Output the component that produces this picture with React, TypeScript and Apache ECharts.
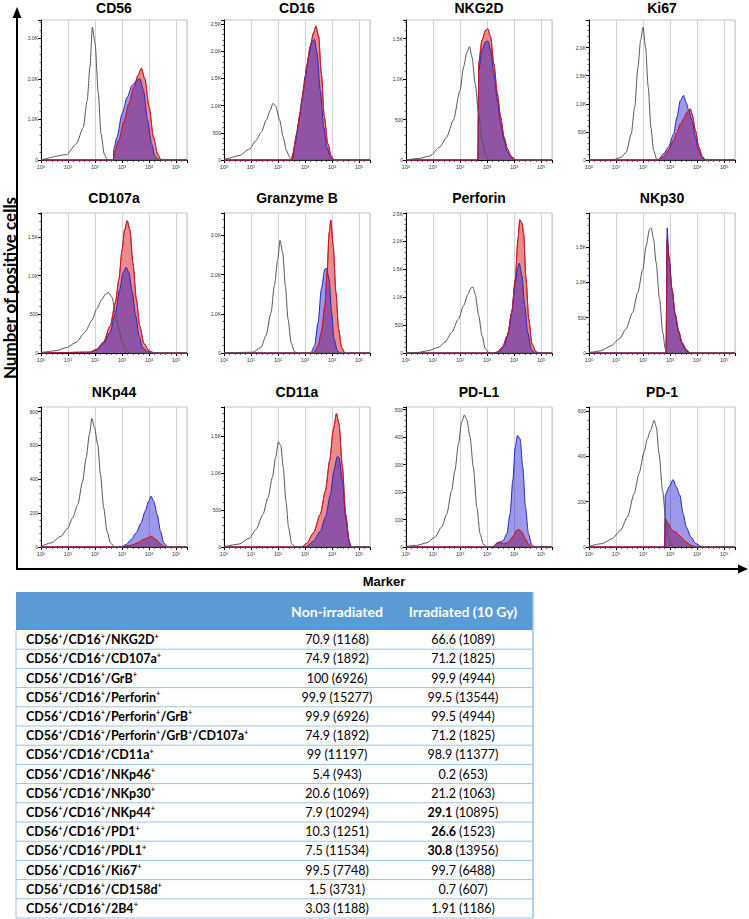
import React, { useEffect, useRef } from "react";
import * as echarts from "echarts";

// ---------- Histogram panels (x = log10 fluorescence, y = cell count) ----------
const PANEL_NAMES = ["CD56", "CD16", "NKG2D", "Ki67", "CD107a", "Granzyme B", "Perforin", "NKp30", "NKp44", "CD11a", "PD-L1", "PD-1"];
const Y_MAX = [3450, 2570, 1730, 2490, 1810, 3570, 2510, 1980, 827, 1890, 510, 617];
const Y_STEP = [1000, 500, 500, 500, 500, 1000, 500, 500, 200, 500, 100, 200];
const X_DECADES = [0, 1, 2, 3, 4, 5];

// unstained / isotype (grey outline)
const CD56_ISO = [[0,0],[0.94,130],[1.31,400],[1.56,800],[1.71,1470],[1.81,2300],[1.9,3270],[2.0,2880],[2.12,1640],[2.22,640],[2.34,150],[2.44,20],[2.55,0],[5.4,0]];
const CD16_ISO = [[0,0],[0.06,20],[0.56,80],[0.94,200],[1.19,360],[1.38,510],[1.56,730],[1.71,910],[1.81,1040],[1.91,990],[2.06,730],[2.19,420],[2.31,170],[2.44,40],[2.54,0],[5.4,0]];
const NKG2D_ISO = [[0,0],[0.5,20],[0.88,50],[1.25,160],[1.5,280],[1.75,490],[2.0,860],[2.13,1150],[2.25,1330],[2.35,1400],[2.44,1270],[2.56,940],[2.69,570],[2.81,240],[2.94,70],[3.06,0],[5.4,0]];
const KI67_ISO = [[0,0],[0.94,10],[1.19,50],[1.38,140],[1.56,460],[1.69,940],[1.81,1650],[1.91,2130],[2.0,2360],[2.09,2010],[2.19,1300],[2.29,580],[2.39,170],[2.5,20],[2.63,0],[5.4,0]];
const CD107A_ISO = [[0,0],[0.06,10],[0.56,30],[0.94,70],[1.31,140],[1.63,270],[1.88,420],[2.06,570],[2.25,690],[2.38,760],[2.5,780],[2.63,720],[2.75,520],[2.88,310],[3.0,140],[3.13,40],[3.25,0],[5.4,0]];
const GRB_ISO = [[0,0],[1.06,20],[1.37,140],[1.55,440],[1.74,1030],[1.86,1710],[1.99,2390],[2.07,2870],[2.17,2560],[2.27,1710],[2.37,860],[2.48,270],[2.61,30],[2.73,0],[5.4,0]];
const PERF_ISO = [[0,0],[0.44,10],[0.81,40],[1.19,100],[1.44,190],[1.69,370],[1.94,610],[2.13,850],[2.29,1050],[2.41,1170],[2.48,1180],[2.56,1050],[2.69,670],[2.81,310],[2.94,70],[3.06,10],[3.19,0],[5.4,0]];
const NKP30_ISO = [[0,0],[0.06,10],[0.43,30],[0.81,100],[1.12,200],[1.37,340],[1.61,570],[1.8,850],[1.99,1180],[2.11,1510],[2.24,1750],[2.3,1770],[2.39,1610],[2.48,1280],[2.61,760],[2.73,290],[2.82,60],[2.92,0],[5.4,0]];
const NKP44_ISO = [[0,4],[0.37,24],[0.74,63],[0.99,112],[1.17,172],[1.36,250],[1.54,389],[1.67,527],[1.79,665],[1.88,760],[1.98,704],[2.1,605],[2.2,428],[2.32,231],[2.44,93],[2.57,24],[2.72,0],[5.4,0]];
const CD11A_ISO = [[0,0],[0.06,10],[0.56,40],[0.94,120],[1.19,240],[1.44,440],[1.63,670],[1.79,940],[1.91,1210],[2.01,1420],[2.1,1370],[2.19,1080],[2.29,620],[2.39,260],[2.5,50],[2.63,0],[5.4,0]];
const PDL1_ISO = [[0,2],[0.4,6],[0.77,15],[1.07,36],[1.32,73],[1.51,121],[1.69,206],[1.81,279],[1.94,376],[2.06,455],[2.16,481],[2.25,463],[2.37,400],[2.49,291],[2.62,145],[2.74,48],[2.86,10],[2.99,0],[5.4,0]];
const PD1_ISO = [[0,3],[0.49,15],[0.86,37],[1.17,74],[1.42,132],[1.67,235],[1.85,324],[2.04,419],[2.16,478],[2.28,515],[2.41,559],[2.49,529],[2.59,412],[2.72,250],[2.84,118],[2.94,44],[3.06,7],[3.19,0],[5.4,0]];

// non-irradiated (blue)
const CD56_NON = [[0,0],[2.68,0],[2.69,270],[2.81,560],[3.0,1140],[3.19,1550],[3.37,1840],[3.56,1970],[3.66,2000],[3.79,1720],[3.94,980],[4.09,400],[4.21,100],[4.38,0],[5.4,0]];
const CD16_NON = [[0,0],[2.53,0],[2.63,300],[2.75,670],[2.88,1100],[3.0,1530],[3.13,1900],[3.25,2180],[3.35,2210],[3.44,1960],[3.56,1280],[3.69,600],[3.81,230],[3.94,50],[4.06,0],[5.4,0]];
const NKG2D_NON = [[0,0],[2.66,0],[2.69,1110],[2.81,1360],[2.94,1460],[3.03,1470],[3.13,1360],[3.25,1070],[3.38,740],[3.5,450],[3.63,240],[3.75,100],[3.88,30],[4.06,0],[5.4,0]];
const KI67_NON = [[0,0],[2.56,0],[2.75,110],[2.94,230],[3.13,460],[3.25,760],[3.38,1060],[3.5,1150],[3.59,1030],[3.69,880],[3.81,700],[3.94,400],[4.06,170],[4.19,40],[4.31,0],[5.4,0]];
const CD107A_NON = [[0,0],[1.81,10],[2.06,40],[2.31,120],[2.56,270],[2.75,520],[2.91,820],[3.04,1040],[3.15,1110],[3.25,1040],[3.38,780],[3.5,480],[3.63,220],[3.75,70],[3.94,20],[4.13,0],[5.4,0]];
const GRB_NON = [[0,0],[3.2,0],[3.23,20],[3.35,190],[3.48,780],[3.6,1630],[3.73,2140],[3.79,2160],[3.89,1880],[3.98,1030],[4.07,360],[4.19,60],[4.29,0],[5.4,0]];
const PERF_NON = [[0,0],[3.3,0],[3.44,20],[3.63,130],[3.79,370],[3.91,730],[4.04,1260],[4.13,1530],[4.19,1610],[4.29,1380],[4.39,850],[4.5,370],[4.63,70],[4.75,0],[5.4,0]];
const NKP30_NON = [[0,0],[2.85,0],[2.89,1770],[2.96,1370],[3.07,900],[3.19,530],[3.32,290],[3.44,130],[3.6,30],[3.73,0],[5.4,0]];
const NKP44_NON = [[0,0],[2.85,0],[2.96,2],[3.15,14],[3.33,43],[3.52,83],[3.7,142],[3.85,211],[3.98,270],[4.07,300],[4.17,270],[4.3,191],[4.42,93],[4.54,24],[4.67,2],[4.77,0],[5.4,0]];
const CD11A_NON = [[0,0],[2.9,0],[3.06,10],[3.31,80],[3.56,210],[3.75,400],[3.94,710],[4.06,1030],[4.19,1220],[4.25,1210],[4.38,900],[4.5,400],[4.63,80],[4.69,0],[5.4,0]];
const PDL1_NON = [[0,0],[3.1,0],[3.23,2],[3.36,15],[3.48,18],[3.6,24],[3.73,48],[3.85,121],[3.95,242],[4.04,364],[4.12,406],[4.22,394],[4.32,291],[4.42,145],[4.53,48],[4.65,8],[4.77,0],[5.4,0]];
const PD1_NON = [[0,0],[2.8,0],[2.82,228],[2.96,265],[3.11,297],[3.23,265],[3.36,228],[3.48,147],[3.6,88],[3.77,44],[3.95,15],[4.14,3],[4.26,0],[5.4,0]];

// irradiated 10 Gy (red)
const CD56_IRR = [[0,0],[2.68,0],[2.69,150],[2.88,480],[3.06,930],[3.25,1390],[3.44,1800],[3.59,2090],[3.71,2260],[3.84,2000],[4.0,1300],[4.16,560],[4.31,150],[4.44,0],[5.4,0]];
const CD16_IRR = [[0,0],[2.5,0],[2.54,110],[2.69,480],[2.81,850],[2.94,1280],[3.06,1720],[3.19,2090],[3.31,2330],[3.4,2460],[3.5,2270],[3.6,1590],[3.71,790],[3.84,300],[3.96,80],[4.06,0],[5.4,0]];
const NKG2D_IRR = [[0,0],[2.66,0],[2.69,1200],[2.81,1480],[2.94,1600],[3.03,1620],[3.13,1520],[3.25,1190],[3.38,820],[3.5,530],[3.63,280],[3.75,140],[3.88,50],[4.06,0],[5.4,0]];
const KI67_IRR = [[0,0],[2.56,0],[2.75,60],[2.94,170],[3.13,350],[3.25,490],[3.38,640],[3.5,730],[3.63,850],[3.75,910],[3.81,820],[3.94,520],[4.06,230],[4.19,60],[4.31,0],[5.4,0]];
const CD107A_IRR = [[0,0],[1.81,10],[2.06,50],[2.31,140],[2.56,350],[2.75,650],[2.88,950],[3.0,1340],[3.09,1590],[3.19,1710],[3.29,1590],[3.4,1160],[3.53,690],[3.65,350],[3.81,120],[4.0,30],[4.19,0],[5.4,0]];
const GRB_IRR = [[0,0],[3.3,0],[3.35,30],[3.48,190],[3.6,530],[3.73,1200],[3.81,2050],[3.89,3070],[3.95,3390],[4.04,2730],[4.14,1540],[4.24,610],[4.35,140],[4.47,0],[5.4,0]];
const PERF_IRR = [[0,0],[3.25,0],[3.38,20],[3.56,100],[3.75,310],[3.91,730],[4.04,1320],[4.14,2040],[4.21,2390],[4.29,2330],[4.35,2140],[4.44,1320],[4.54,610],[4.66,160],[4.81,20],[4.94,0],[5.4,0]];
const NKP30_IRR = [[0,0],[2.85,0],[2.89,1610],[2.96,1320],[3.07,900],[3.19,550],[3.32,310],[3.44,150],[3.6,50],[3.73,0],[5.4,0]];
const NKP44_IRR = [[0,0],[2.96,0],[3.33,10],[3.58,24],[3.77,43],[3.95,53],[4.05,63],[4.14,57],[4.26,43],[4.38,24],[4.51,6],[4.63,0],[5.4,0]];
const CD11A_IRR = [[0,0],[2.88,0],[3.06,50],[3.31,190],[3.56,440],[3.75,760],[3.91,1170],[4.04,1580],[4.16,1800],[4.25,1670],[4.38,1080],[4.5,440],[4.63,80],[4.69,0],[5.4,0]];
const PDL1_IRR = [[0,0],[3.1,0],[3.23,2],[3.36,12],[3.48,18],[3.6,12],[3.73,15],[3.85,24],[3.98,42],[4.1,61],[4.2,63],[4.28,55],[4.41,30],[4.53,10],[4.65,0],[5.4,0]];
const PD1_IRR = [[0,0],[2.8,0],[2.82,125],[2.94,103],[3.06,74],[3.21,66],[3.4,44],[3.58,22],[3.77,7],[3.95,0],[5.4,0]];

const ISO = [CD56_ISO, CD16_ISO, NKG2D_ISO, KI67_ISO, CD107A_ISO, GRB_ISO, PERF_ISO, NKP30_ISO, NKP44_ISO, CD11A_ISO, PDL1_ISO, PD1_ISO];
const NON = [CD56_NON, CD16_NON, NKG2D_NON, KI67_NON, CD107A_NON, GRB_NON, PERF_NON, NKP30_NON, NKP44_NON, CD11A_NON, PDL1_NON, PD1_NON];
const IRR = [CD56_IRR, CD16_IRR, NKG2D_IRR, KI67_IRR, CD107A_IRR, GRB_IRR, PERF_IRR, NKP30_IRR, NKP44_IRR, CD11A_IRR, PDL1_IRR, PD1_IRR];

// ---------- Table ----------
const TABLE_HEADERS = ["Non-irradiated", "Irradiated (10 Gy)"];
const ROW_MARKERS = [
  ["CD56", "CD16", "NKG2D"],
  ["CD56", "CD16", "CD107a"],
  ["CD56", "CD16", "GrB"],
  ["CD56", "CD16", "Perforin"],
  ["CD56", "CD16", "Perforin", "GrB"],
  ["CD56", "CD16", "Perforin", "GrB", "CD107a"],
  ["CD56", "CD16", "CD11a"],
  ["CD56", "CD16", "NKp46"],
  ["CD56", "CD16", "NKp30"],
  ["CD56", "CD16", "NKp44"],
  ["CD56", "CD16", "PD1"],
  ["CD56", "CD16", "PDL1"],
  ["CD56", "CD16", "Ki67"],
  ["CD56", "CD16", "CD158d"],
  ["CD56", "CD16", "2B4"],
];
const NON_IRR_PCT = ["70.9", "74.9", "100", "99.9", "99.9", "74.9", "99", "5.4", "20.6", "7.9", "10.3", "7.5", "99.5", "1.5", "3.03"];
const NON_IRR_MFI = [1168, 1892, 6926, 15277, 6926, 1892, 11197, 943, 1069, 10294, 1251, 11534, 7748, 3731, 1188];
const IRR_PCT = ["66.6", "71.2", "99.9", "99.5", "99.5", "71.2", "98.9", "0.2", "21.2", "29.1", "26.6", "30.8", "99.7", "0.7", "1.91"];
const IRR_MFI = [1089, 1825, 4944, 13544, 4944, 1825, 11377, 653, 1063, 10895, 1523, 13956, 6488, 607, 1186];
const IRR_BOLD = [false, false, false, false, false, false, false, false, false, true, true, true, false, false, false];

// ---------- layout ----------
const W = 749, H = 919;
const COL_LEFT = [41, 224, 406, 589];
const ROW_TOP = [20, 213, 407];
const ROW_TITLE_Y = [8, 198, 392];
const PW = 146, PH = 140;
const RED_FILL = "#eb8c8c";
const BLUE_FILL = "rgba(10,0,200,0.4)";

const fmtY = (v: number) => (v >= 1000 ? (v / 1000).toFixed(1) + "K" : String(v));

function buildOption() {
  const grid: any[] = [];
  const xAxis: any[] = [];
  const yAxis: any[] = [];
  const series: any[] = [];
  const graphic: any[] = [];

  PANEL_NAMES.forEach((name, i) => {
    const r = Math.floor(i / 4), c = i % 4;
    const left = COL_LEFT[c], top = ROW_TOP[r];
    grid.push({ left, top, width: PW, height: PH, show: true, borderColor: "#c4c4c4", borderWidth: 1, backgroundColor: "transparent" });
    xAxis.push({
      type: "value", gridIndex: i, min: X_DECADES[0], max: 5.4, interval: 1,
      axisLine: { show: true, onZero: false, lineStyle: { color: "#000", width: 1 } },
      axisTick: { show: true, length: 3, lineStyle: { color: "#000", width: 1 } },
      minorTick: { show: true, splitNumber: 5, length: 2, lineStyle: { color: "#000", width: 0.6 } },
      splitLine: { show: true, lineStyle: { color: "#d2d2d2", width: 1 } },
      axisLabel: {
        margin: 4, showMaxLabel: false,
        formatter: (v: number) => (X_DECADES.includes(v) ? `{a|10}{b|${v}}` : ""),
        rich: {
          a: { fontSize: 5.5, color: "#333", fontFamily: "Liberation Sans" },
          b: { fontSize: 4, color: "#333", fontFamily: "Liberation Sans", verticalAlign: "top" },
        },
      },
    });
    const step = Y_STEP[i];
    yAxis.push({
      type: "value", gridIndex: i, min: 0, max: Y_MAX[i], interval: step,
      axisLine: { show: true, lineStyle: { color: "#000", width: 1 } },
      axisTick: { show: true, length: 3, lineStyle: { color: "#000", width: 1 } },
      minorTick: { show: true, splitNumber: 5, length: 1.5, lineStyle: { color: "#000", width: 0.6 } },
      splitLine: { show: false },
      axisLabel: {
        fontSize: 5, color: "#333", margin: 3, fontFamily: "Liberation Sans",
        formatter: (v: number) => (v % step === 0 ? fmtY(v) : ""),
      },
    });
    const common = { type: "line", xAxisIndex: i, yAxisIndex: i, symbol: "none", showSymbol: false, smooth: 0.25, smoothMonotone: "x", silent: true, clip: false };
    // irradiated fill (opaque salmon), then translucent blue non-irradiated on top gives purple overlap
    series.push({ ...common, name: name + " irradiated", data: IRR[i], lineStyle: { color: "#d0202c", width: 1 }, areaStyle: { color: RED_FILL, opacity: 1 } });
    series.push({ ...common, name: name + " non-irradiated", data: NON[i], lineStyle: { color: "#2424c0", width: 1 }, areaStyle: { color: BLUE_FILL, opacity: 1 } });
    series.push({ ...common, name: name + " irradiated outline", data: IRR[i], lineStyle: { color: "#c81828", width: 0.9 } });
    series.push({ ...common, name: name + " control", data: ISO[i], lineStyle: { color: "#555", width: 1 } });

    graphic.push({
      type: "text", x: left + PW / 2, y: ROW_TITLE_Y[r],
      style: { text: name, align: "center", verticalAlign: "middle", fontFamily: "Liberation Sans", fontWeight: "bold", fontSize: 14, fill: "#000" },
    });
  });

  // big axes with arrows
  const axY = 569, axX = 17;
  graphic.push({ type: "line", shape: { x1: axX, y1: axY, x2: axX, y2: 16 }, style: { stroke: "#000", lineWidth: 2 } });
  graphic.push({ type: "polygon", shape: { points: [[axX, 7], [axX - 4.5, 18], [axX + 4.5, 18]] }, style: { fill: "#000" } });
  graphic.push({ type: "line", shape: { x1: axX - 1, y1: axY, x2: 740, y2: axY }, style: { stroke: "#000", lineWidth: 2 } });
  graphic.push({ type: "polygon", shape: { points: [[748, axY], [738, axY - 4.5], [738, axY + 4.5]] }, style: { fill: "#000" } });
  graphic.push({
    type: "text", x: 9, y: 288, rotation: Math.PI / 2,
    style: { text: "Number of positive cells", align: "center", verticalAlign: "middle", fontFamily: "Lato", fontWeight: "bold", fontSize: 17, fill: "#000" },
  });
  graphic.push({
    type: "text", x: 384, y: 581,
    style: { text: "Marker", align: "center", verticalAlign: "middle", fontFamily: "Liberation Sans", fontWeight: "bold", fontSize: 13, fill: "#000" },
  });

  // table
  const tL = 16, tR = 533, tTop = 592, hdrB = 630, rowH = 19.2;
  const c1 = 337, c2 = 463;
  const nRows = ROW_MARKERS.length;
  const tBot = hdrB + rowH * nRows;
  graphic.push({ type: "rect", shape: { x: tL, y: tTop, width: tR - tL, height: hdrB - tTop }, style: { fill: "#5b9bd5" } });
  graphic.push({ type: "text", x: c1, y: 611, style: { text: TABLE_HEADERS[0], align: "center", verticalAlign: "middle", fontFamily: "Lato", fontWeight: "bold", fontSize: 14, fill: "#fff" } });
  graphic.push({ type: "text", x: c2, y: 611, style: { text: TABLE_HEADERS[1], align: "center", verticalAlign: "middle", fontFamily: "Lato", fontWeight: "bold", fontSize: 14, fill: "#fff" } });
  for (let k = 1; k <= nRows; k++) {
    const y = hdrB + rowH * k;
    graphic.push({ type: "line", shape: { x1: tL, y1: y, x2: tR, y2: y }, style: { stroke: "#9dc3e6", lineWidth: 1 } });
  }
  graphic.push({ type: "line", shape: { x1: tL, y1: hdrB, x2: tL, y2: tBot }, style: { stroke: "#9dc3e6", lineWidth: 1 } });
  graphic.push({ type: "line", shape: { x1: tR, y1: tTop, x2: tR, y2: tBot }, style: { stroke: "#9dc3e6", lineWidth: 1.5 } });

  ROW_MARKERS.forEach((parts, k) => {
    const yc = hdrB + rowH * (k + 0.5);
    const label = parts.map((p) => `{n|${p}}{s|+}`).join("{n|/}");
    graphic.push({
      type: "text", x: 26, y: yc,
      style: {
        text: label, align: "left", verticalAlign: "middle",
        rich: {
          n: { fontFamily: "Lato", fontWeight: "bold", fontSize: 12.5, fill: "#000", lineHeight: 15 },
          s: { fontFamily: "Lato", fontWeight: "bold", fontSize: 7.5, fill: "#000", verticalAlign: "top", lineHeight: 9 },
        },
      },
    });
    graphic.push({
      type: "text", x: c1, y: yc,
      style: { text: `${NON_IRR_PCT[k]} (${NON_IRR_MFI[k]})`, align: "center", verticalAlign: "middle", fontFamily: "Lato", fontSize: 12.5, fill: "#000" },
    });
    const irrText = IRR_BOLD[k] ? `{b|${IRR_PCT[k]}}{r| (${IRR_MFI[k]})}` : `{r|${IRR_PCT[k]} (${IRR_MFI[k]})}`;
    graphic.push({
      type: "text", x: c2, y: yc,
      style: {
        text: irrText, align: "center", verticalAlign: "middle",
        rich: {
          b: { fontFamily: "Lato", fontWeight: "bold", fontSize: 12.5, fill: "#000" },
          r: { fontFamily: "Lato", fontSize: 12.5, fill: "#000" },
        },
      },
    });
  });

  return { animation: false, backgroundColor: "#fff", grid, xAxis, yAxis, series, graphic };
}

export default function App() {
  const ref = useRef<HTMLDivElement>(null);
  useEffect(() => {
    if (!ref.current) return;
    const chart = echarts.init(ref.current, null, { renderer: "svg" });
    chart.setOption(buildOption() as any);
    return () => chart.dispose();
  }, []);
  return (
    <>
      <style>{`body{margin:0}`}</style>
      <div ref={ref} style={{ width: W, height: H }} />
    </>
  );
}
